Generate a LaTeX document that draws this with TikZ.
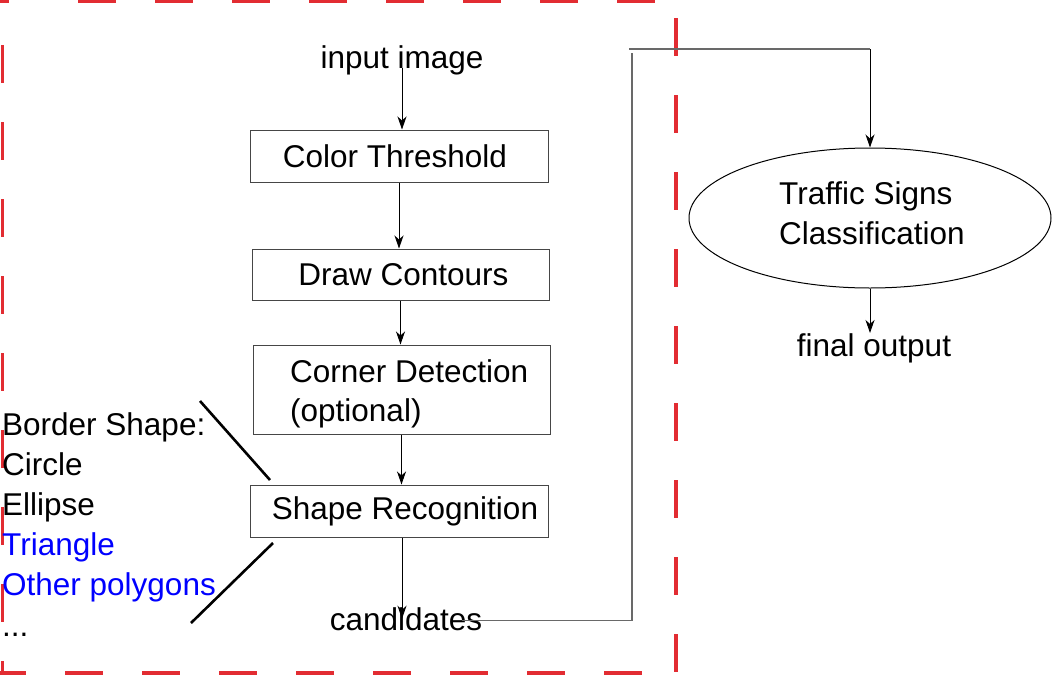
\documentclass[tikz,border=0pt]{standalone}
\usepackage{fontspec}
\setmainfont{Liberation Sans}
\usetikzlibrary{arrows.meta,shapes.geometric,calc}
\definecolor{redline}{RGB}{226,44,50}
\definecolor{boxline}{RGB}{70,70,70}
\definecolor{greyline}{RGB}{105,105,105}
\definecolor{myblue}{RGB}{0,0,255}
\begin{document}
\begin{tikzpicture}[x=1pt,y=-1pt,
  every node/.style={font=\fontsize{31.5}{40}\selectfont, inner sep=0pt},
  box/.style={draw=boxline, line width=1pt, rectangle},
  arr/.style={-{Stealth[length=13pt,width=9pt,inset=4pt]}, line width=0.9pt},
  reddash/.style={draw=redline, line width=3.6pt, dash pattern=on 38pt off 39pt},
  gline/.style={draw=greyline, line width=1.3pt},
  slash/.style={line width=2.6pt}
]
\useasboundingbox (0,0) rectangle (1052,675);

% red dashed frame
\draw[reddash] (78,1.5) -- (660,1.5);
\draw[draw=redline, line width=3.6pt] (0,1.5) -- (9,1.5);
\draw[reddash] (676,18) -- (676,675);
\draw[reddash] (2.5,45) -- (2.5,675);
\draw[reddash, dash phase=12pt] (0,673) -- (680,673);

% boxes
\node[box, minimum width=298pt, minimum height=52pt] (ct) at (399,156) {Color Threshold\hspace*{8pt}};
\node[box, minimum width=297pt, minimum height=51pt] (dc) at (400.5,274.5) {\hspace*{6pt}Draw Contours};
\node[box, minimum width=297pt, minimum height=89pt] (cd) at (401.5,389.5) {};
\node[anchor=base west] (cdt1) at (290,382) {Corner Detection};
\node[anchor=base west] (cdt2) at (290,421) {(optional)};
\node[box, minimum width=298pt, minimum height=52pt] (sr) at (399,511) {\hspace*{12pt}Shape Recognition};

\node[anchor=base] (it) at (402,68) {input image};
\node[anchor=base] (cand) at (406,630) {candidates};

\node[ellipse, draw=black, line width=1pt, minimum width=362pt, minimum height=140pt] (tsc) at (870,218) {};
\node[anchor=base west] (ts1) at (779,204) {Traffic Signs};
\node[anchor=base west] (ts2) at (779,244) {Classification};
\node[anchor=base] (fo) at (874,356) {final output};

% left list
\node[anchor=base west] (bs) at (2,435) {Border Shape:};
\node[anchor=base west] (ci) at (2,475) {Circle};
\node[anchor=base west] (el) at (2,515) {Ellipse};
\node[anchor=base west, text=myblue] (tr) at (2,555) {Triangle};
\node[anchor=base west, text=myblue] (op) at (2,595) {Other polygons};
\node[anchor=base west] (dots) at (2,636) {...};

% slashes
\coordinate (s1a) at (200,401); \coordinate (s1b) at (270,480);
\coordinate (s2a) at (273,543); \coordinate (s2b) at (191,623);
\draw[slash] (s1a) -- (s1b);
\draw[slash] (s2a) -- (s2b);

% arrows
\draw[arr] (it.base) -- (it.base |- ct.north);
\draw[arr] (ct.south) -- (ct.south |- dc.north);
\draw[arr] (dc.south) -- (dc.south |- cd.north);
\draw[arr] (cd.south) -- (cd.south |- sr.north);
\draw[arr] ([xshift=3pt]sr.south) -- ([xshift=3pt]sr.south |- cand.center);

\coordinate (rv) at (632,53);
\coordinate (rh) at (629,49);
\coordinate (rc) at (870,49);
\draw[gline] ([xshift=56pt,yshift=-1.5pt]cand.center) -| (rv);
\draw[gline] (rh) -- (rc);
\draw[arr] (rc) -- (tsc.north);
\draw[arr] (tsc.south) -- (tsc.south |- fo.north);
\end{tikzpicture}
\end{document}
